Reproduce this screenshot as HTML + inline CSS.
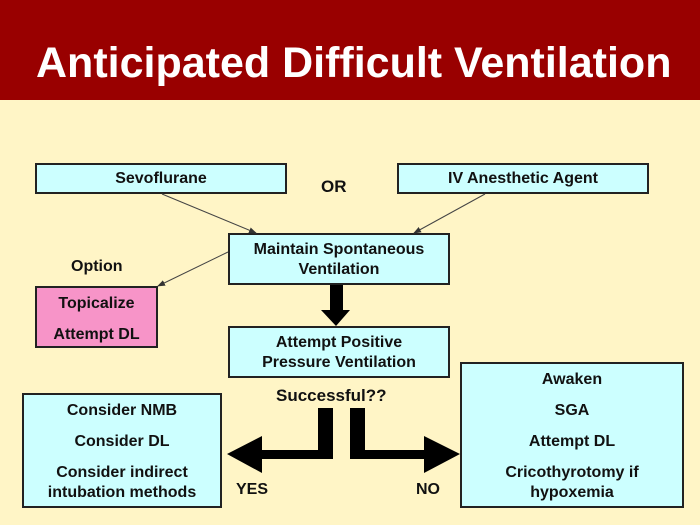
<!DOCTYPE html>
<html><head><style>
body{margin:0;width:700px;height:525px;background:#FFF5C6;position:relative;overflow:hidden;font-family:"Liberation Sans",Arial,sans-serif;font-weight:bold;color:#111}
.hd{position:absolute;left:0;top:0;width:700px;height:100px;background:#990000}
.ht{position:absolute;left:36px;top:38px;color:#fff;font-size:43px;line-height:50px;white-space:nowrap}
.b{position:absolute;box-sizing:border-box;border:2px solid #222;background:#CCFFFF;text-align:center;font-size:16px}
.t{position:absolute;font-size:16px;white-space:nowrap}
.s{line-height:20px;display:inline-block;margin-top:6px}
</style></head><body>
<div class="hd"></div><div class="ht">Anticipated Difficult Ventilation</div>
<div class="b" style="left:35px;top:163px;width:252px;height:31px;line-height:27px">Sevoflurane</div>
<div class="b" style="left:397px;top:163px;width:252px;height:31px;line-height:27px">IV Anesthetic Agent</div>
<div class="t" style="left:321px;top:177px;font-size:17px">OR</div>
<div class="b" style="left:228px;top:233px;width:222px;height:52px;line-height:20px;padding-top:5px">Maintain Spontaneous<br>Ventilation</div>
<div class="t" style="left:71px;top:258px">Option</div>
<div class="b" style="left:35px;top:286px;width:123px;height:62px;background:#F794C8;line-height:31px">Topicalize<br>Attempt DL</div>
<div class="b" style="left:228px;top:326px;width:222px;height:52px;line-height:20px;padding-top:5px">Attempt Positive<br>Pressure Ventilation</div>
<div class="t" style="left:276px;top:386px;font-size:17px">Successful??</div>
<div class="b" style="left:22px;top:393px;width:200px;height:115px;line-height:31px">Consider NMB<br>Consider DL<br><span class="s">Consider indirect<br>intubation methods</span></div>
<div class="b" style="left:460px;top:362px;width:224px;height:146px;line-height:31px">Awaken<br>SGA<br>Attempt DL<br><span class="s">Cricothyrotomy if<br>hypoxemia</span></div>
<div class="t" style="left:236px;top:481px">YES</div>
<div class="t" style="left:416px;top:481px">NO</div>
<svg width="700" height="525" style="position:absolute;left:0;top:0">
<defs><marker id="a" markerWidth="8" markerHeight="8" refX="7" refY="4" orient="auto" markerUnits="userSpaceOnUse"><path d="M0,1 L8,4 L0,7z" fill="#333"/></marker></defs>
<g stroke="#444" stroke-width="1" marker-end="url(#a)">
<line x1="162" y1="194" x2="256" y2="233"/>
<line x1="485" y1="194" x2="414" y2="233"/>
<line x1="228" y1="252" x2="158" y2="286"/>
</g>
<path d="M330,285 H343 V310 H350 L336,326 L321,310 H330Z" fill="#000"/>
<path d="M318,408 H333 V459 H262 V473 L227,454 L262,436 V450 H318Z" fill="#000"/>
<path d="M350,408 H365 V450 H424 V436 L460,454 L424,473 V459 H350Z" fill="#000"/>
</svg>
</body></html>
